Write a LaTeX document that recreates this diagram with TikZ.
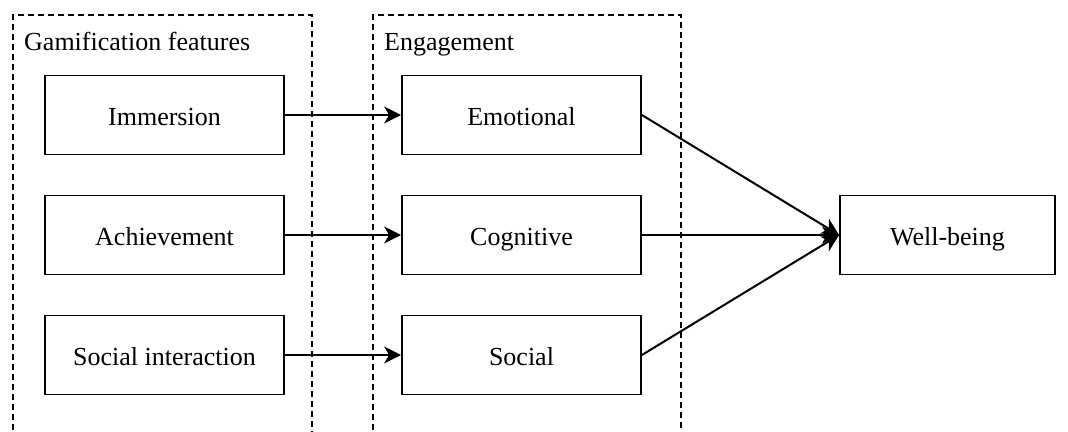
\documentclass[tikz,border=0pt]{standalone}
\usepackage{fontspec}
\setmainfont{Liberation Serif}
\usepackage{xcolor}
\definecolor{Black}{RGB}{0,0,0}
\definecolor{White}{RGB}{255,255,255}
\usetikzlibrary{arrows.meta}

\begin{document}
\begin{tikzpicture}[x=1pt, y=-1pt,
		factor/.style={draw=Black, fill=White, line width=1.8pt, minimum width=239pt, minimum height=79pt, inner sep=0pt, text height=20pt, text depth=0pt, font=\fontsize{26}{30}\selectfont},
		group/.style={draw=Black, line width=1.6pt, dash pattern=on 6pt off 4pt},
		grouplabel/.style={anchor=west, inner sep=0pt, text height=20pt, text depth=0pt, font=\fontsize{26}{30}\selectfont},
		link/.style={-{Stealth[length=17pt, width=17pt, inset=5pt]}, draw=Black, line width=2pt}]
		
		\useasboundingbox (0,0) rectangle (1068,431);
		
		% Groups
		\draw[group] (13,440) -- (13,15) -- (312,15) -- (312,440);
		\draw[group] (373,440) -- (373,15) -- (681,15) -- (681,440);
		
		\node[grouplabel] (gamelabel) at (24,40) {Gamification features};
		\node[grouplabel] (englabel) at (384,40) {Engagement};
		
		% Gamification features
		\node[factor] (immersion) at (164.5,115) {Immersion};
		\node[factor] (achievement) at (164.5,235) {Achievement};
		\node[factor] (socialint) at (164.5,355) {Social interaction};
		
		% Engagement
		\node[factor] (emotional) at (521.5,115) {Emotional};
		\node[factor] (cognitive) at (521.5,235) {Cognitive};
		\node[factor] (social) at (521.5,355) {Social};
		
		% Outcome
		\node[factor, minimum width=215pt] (wellbeing) at (947.5,235) {Well-being};
		
		% Links
		\draw[link] (immersion) -- (emotional);
		\draw[link] (achievement) -- (cognitive);
		\draw[link] (socialint) -- (social);
		
		\draw[link] (emotional.east) -- (wellbeing.west);
		\draw[link] (cognitive.east) -- (wellbeing.west);
		\draw[link] (social.east) -- (wellbeing.west);
		
	\end{tikzpicture}
\end{document}
